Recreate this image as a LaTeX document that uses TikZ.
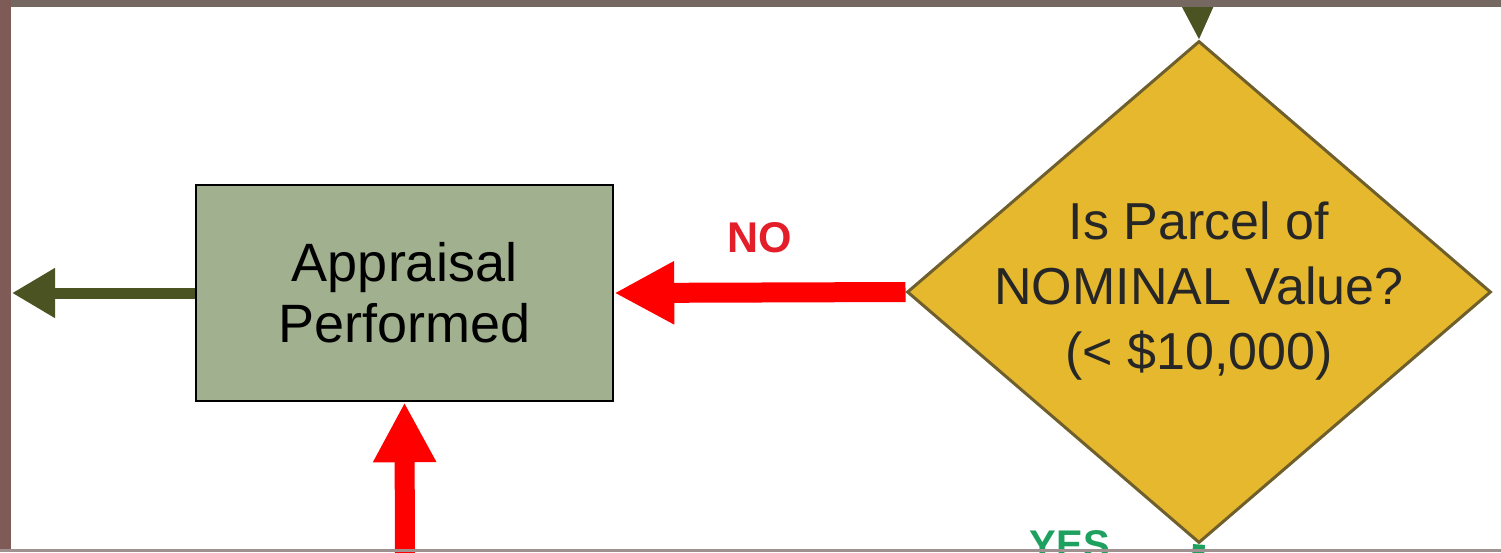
\documentclass[tikz,border=0pt]{standalone}
\usepackage{fontspec}
\setmainfont{Liberation Sans}
\usetikzlibrary{arrows.meta,shapes.geometric}
\definecolor{boxgreen}{RGB}{161,176,142}
\definecolor{gold}{RGB}{230,184,46}
\definecolor{diamondedge}{RGB}{110,95,45}
\definecolor{darkolive}{RGB}{75,83,35}
\definecolor{arrowred}{RGB}{255,0,0}
\definecolor{labelred}{RGB}{228,30,40}
\definecolor{yesgreen}{RGB}{30,160,95}
\definecolor{frametop}{RGB}{116,104,96}
\definecolor{frameleft}{RGB}{126,91,86}
\definecolor{framebot}{RGB}{160,145,145}
\begin{document}
\begin{tikzpicture}[x=1pt,y=-1pt]
\tikzstyle{process}=[draw=black, line width=2.5pt, fill=boxgreen, minimum width=417pt, minimum height=216pt, align=center, font=\fontsize{54}{61}\selectfont]
\tikzstyle{decision}=[diamond, draw=diamondedge, line width=3pt, fill=gold, minimum width=584pt, minimum height=502pt, inner sep=0pt]
\tikzstyle{qtext}=[align=center, font=\fontsize{52}{65}\selectfont, text=black!85]
\tikzstyle{redarrow}=[draw=arrowred, line width=20pt, -{Triangle[length=60pt,width=59pt]}]
\tikzstyle{darkarrow}=[draw=darkolive, line width=11pt, -{Triangle[length=43pt,width=47pt]}]
\tikzstyle{edgelabel}=[font=\bfseries\fontsize{43}{43}\selectfont, anchor=base, inner sep=0pt]
\useasboundingbox (0,0) rectangle (1501,552);
\clip (0,0) rectangle (1501,552);
\fill[white] (0,0) rectangle (1501,552);

\node[process] (appraisal) at (404.5,293) {Appraisal\\Performed};
\node[decision] (q) at (1199,292) {};
\node[qtext] (qlabel) at (1199,291) {Is Parcel of\\NOMINAL Value?\\(< \$10,000)};

\coordinate (topin) at (1197,-20);
\coordinate (exit) at (12,293);
\coordinate (redin) at (405,580);
\coordinate (yesout) at (1195,600);

% connectors
\draw[darkarrow, line width=6pt, -{Triangle[length=35pt,width=32pt]}] (topin) -- (q.north);
\draw[redarrow] (q.west) -- (appraisal.east);
\draw[redarrow] (redin) -- (appraisal.south);
\draw[darkarrow] (appraisal.west) -- (exit);
\draw[yesgreen, line width=12pt] (q.south) -- (yesout);

\node[edgelabel, text=labelred] (no) at (760,252) {NO};
\node[edgelabel, text=yesgreen, font=\bfseries\fontsize{40}{40}\selectfont] (yes) at (1070,558) {YES};

% frame
\fill[frametop] (0,0) rectangle (1501,7);
\fill[frameleft] (0,0) rectangle (11,552);
\fill[framebot] (0,549) rectangle (1501,552);
\end{tikzpicture}
\end{document}
